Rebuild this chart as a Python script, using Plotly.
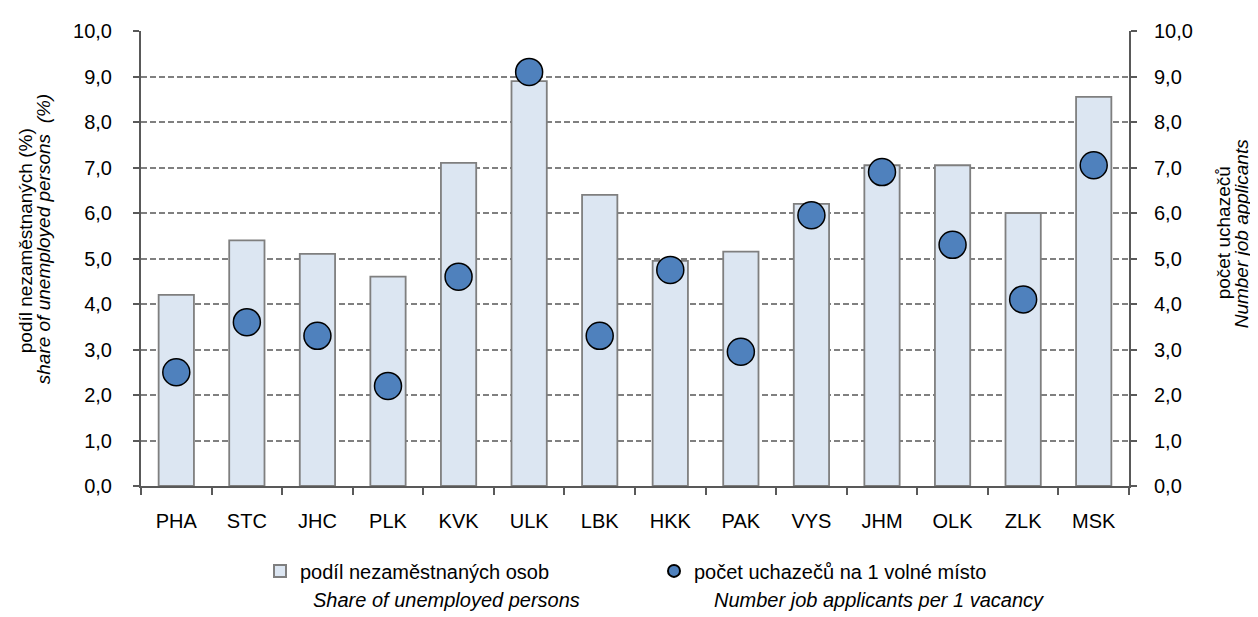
import plotly.graph_objects as go

regions = ["PHA", "STC", "JHC", "PLK", "KVK", "ULK", "LBK", "HKK", "PAK", "VYS", "JHM", "OLK", "ZLK", "MSK"]
share_unemployed = [4.2, 5.4, 5.1, 4.6, 7.1, 8.9, 6.4, 4.95, 5.15, 6.2, 7.05, 7.05, 6.0, 8.55]
applicants_per_vacancy = [2.5, 3.6, 3.3, 2.2, 4.6, 9.1, 3.3, 4.75, 2.95, 5.95, 6.9, 5.3, 4.1, 7.05]

FONT = "Liberation Sans, Arial, sans-serif"
AXIS = "#595959"

# figure is drawn inside an 8px body margin of the page
W, H = 1250, 609
PL, PR, PT, PB = 133, 1121, 17, 478   # plot area in figure pixels


def px(x):
    return (x - PL) / (PR - PL)


def py(y):
    return (PB - y) / (PB - PT)


fig = go.Figure()
fig.add_trace(go.Bar(
    x=regions, y=share_unemployed, name="podíl nezaměstnaných osob",
    marker=dict(color="#DCE6F2", line=dict(color="#7F7F7F", width=1.8)),
    width=0.5, legend="legend",
))
fig.add_trace(go.Scatter(
    x=regions, y=applicants_per_vacancy, name="počet uchazečů na 1 volné místo",
    mode="markers", yaxis="y2", legend="legend2",
    marker=dict(color="#4F81BD", size=27, line=dict(color="#000000", width=1.5)),
))

legend_common = dict(
    orientation="h", xanchor="left", yanchor="middle",
    font=dict(family=FONT, size=20, color="#000000"),
    itemsizing="constant", bgcolor="rgba(0,0,0,0)",
)

fig.update_layout(
    width=W, height=H,
    margin=dict(l=PL, r=W - PR, t=PT, b=H - PB),
    paper_bgcolor="white", plot_bgcolor="white",
    separators=", ",
    font=dict(family=FONT, size=20, color="#000000"),
    showlegend=True,
    legend=dict(x=px(252), y=py(564), **legend_common),
    legend2=dict(x=px(646), y=py(564), **legend_common),
    xaxis=dict(
        range=[-0.5, len(regions) - 0.5],
        showline=True, linecolor=AXIS, linewidth=2,
        ticks="outside", tickson="boundaries", ticklen=7, tickcolor=AXIS, tickwidth=2,
        tickfont=dict(size=20), showgrid=False, ticklabelstandoff=16,
    ),
    yaxis=dict(
        range=[0, 10], dtick=1, tickformat=".1f",
        showline=True, linecolor=AXIS, linewidth=2,
        ticks="outside", ticklen=6, tickcolor=AXIS, tickwidth=2,
        showgrid=True, gridcolor="#808080", griddash="6px,3px", gridwidth=1.5,
        zeroline=False, tickfont=dict(size=20), ticklabelstandoff=17,
    ),
    yaxis2=dict(
        range=[0, 10], dtick=1, tickformat=".1f", overlaying="y", side="right",
        showline=True, linecolor=AXIS, linewidth=2,
        ticks="outside", ticklen=6, tickcolor=AXIS, tickwidth=2,
        showgrid=False, zeroline=False, tickfont=dict(size=20), ticklabelstandoff=13,
    ),
)

annotations = [
    dict(text="podíl nezaměstnaných (%)", x=px(17), y=py(230), textangle=-90, size=19),
    dict(text="<i>share of unemployed persons  (%)</i>", x=px(35), y=py(228), textangle=-90, size=19),
    dict(text="počet uchazečů", x=px(1215), y=py(222), textangle=-90, size=19),
    dict(text="<i>Number job applicants</i>", x=px(1233), y=py(222), textangle=-90, size=19),
    dict(text="<i>Share of unemployed persons</i>", x=px(438), y=py(594), size=20),
    dict(text="<i>Number job applicants per 1 vacancy</i>", x=px(871), y=py(594), size=20),
]
for a in annotations:
    size = a.pop("size")
    a.update(xref="paper", yref="paper", showarrow=False, xanchor="center", yanchor="middle",
             font=dict(family=FONT, size=size, color="#000000"))
fig.update_layout(annotations=annotations)

fig.write_html("out.html")
